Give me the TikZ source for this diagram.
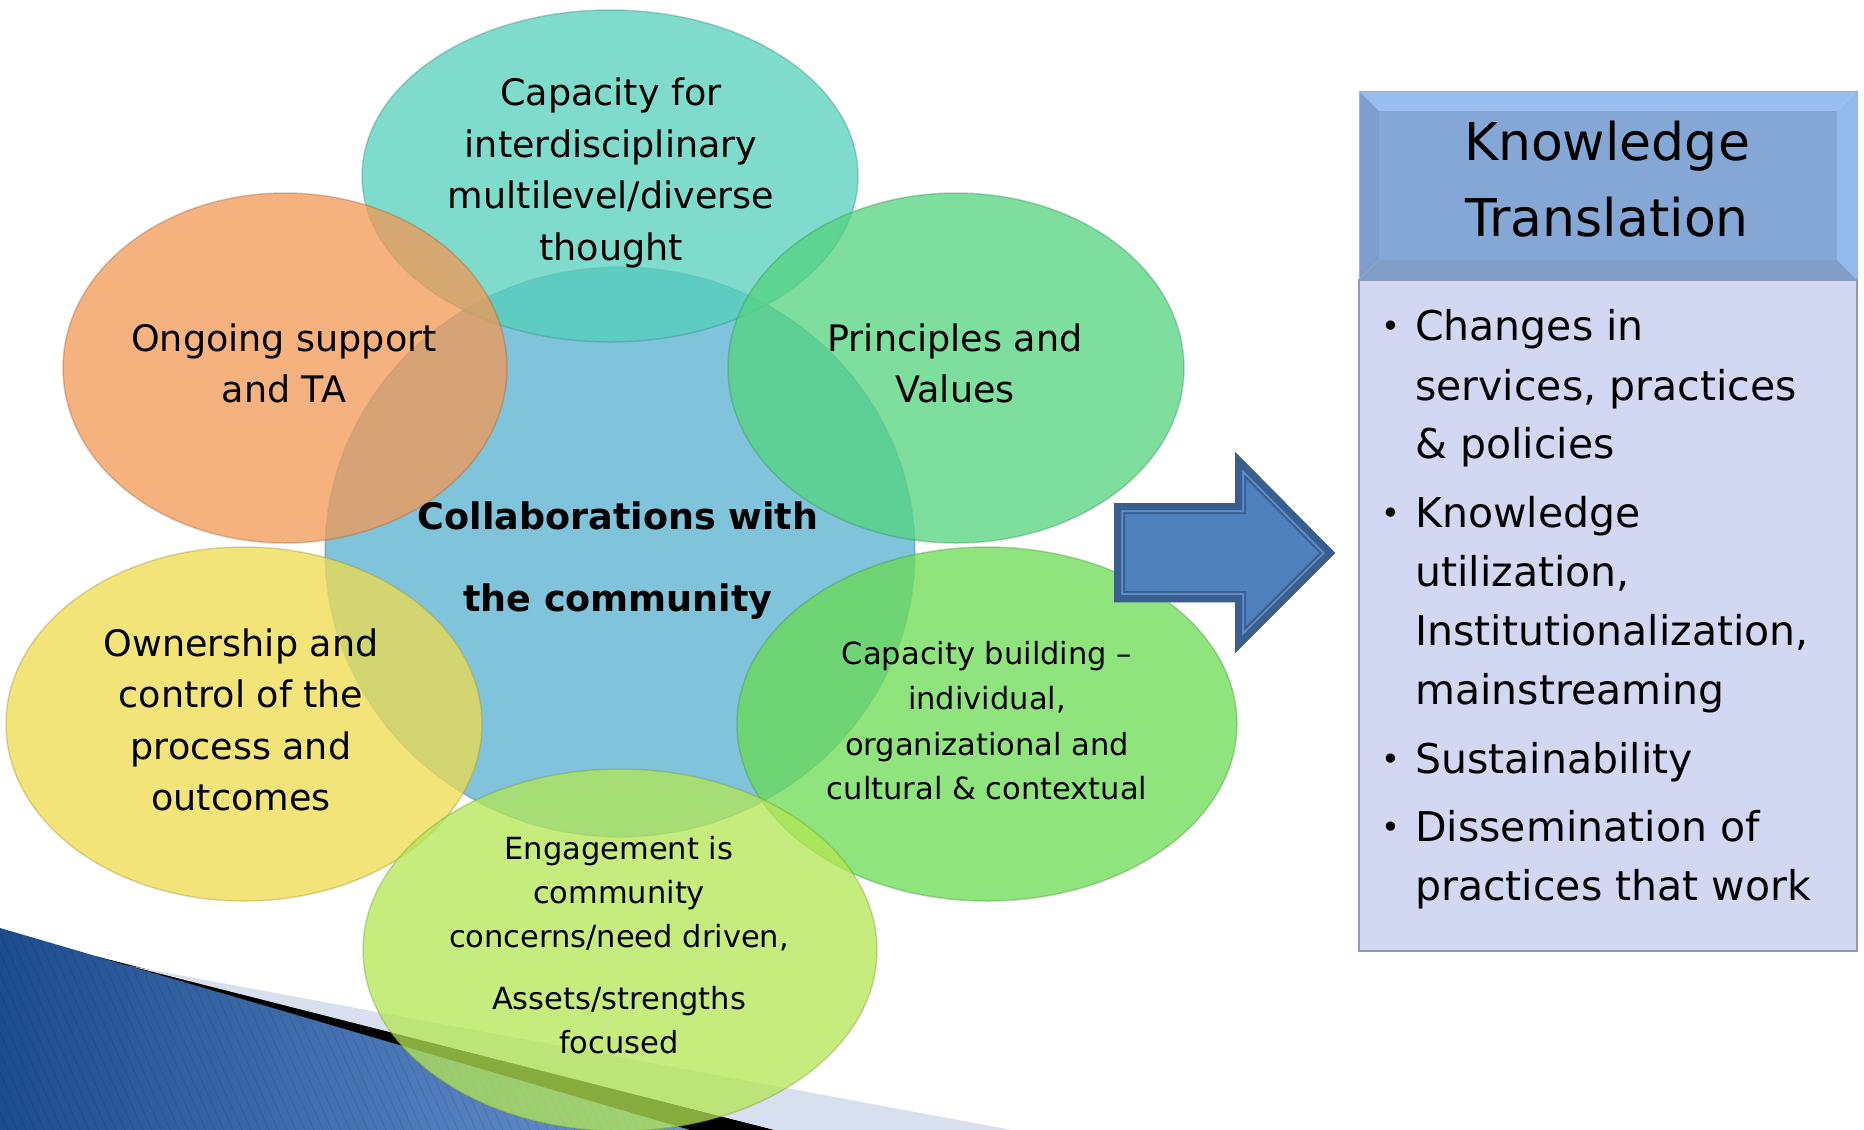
\documentclass[tikz,border=0pt]{standalone}
\usepackage{fontspec}
\setmainfont{DejaVu Sans}
\usetikzlibrary{shapes.geometric}
\definecolor{cCen}{HTML}{80C4DB}
\definecolor{cTeal}{HTML}{55D0BA}
\definecolor{cOrange}{HTML}{F29854}
\definecolor{cPrin}{HTML}{53D47E}
\definecolor{cYellow}{HTML}{EFDB4E}
\definecolor{cCap}{HTML}{6ADC52}
\definecolor{cEng}{HTML}{B3E653}
\definecolor{decoDark}{HTML}{1D4C8C}
\definecolor{decoLight}{HTML}{6D98D6}
\definecolor{decoGray}{HTML}{D8DFEE}
\definecolor{arFill}{HTML}{4F81BD}
\definecolor{arDark}{HTML}{3A5E8E}
\definecolor{arLight}{HTML}{5D8DCB}
\definecolor{hdMid}{HTML}{84A7D6}
\definecolor{hdTop}{HTML}{98BFEF}
\definecolor{hdLeft}{HTML}{7D9FD0}
\definecolor{hdRight}{HTML}{93BAEC}
\definecolor{hdBot}{HTML}{809EC8}
\definecolor{bodyFill}{HTML}{D3D8F2}
\definecolor{bodyLine}{HTML}{9099B8}
\newcommand\myfA{\fontsize{36.5}{44}\selectfont}
\newcommand\myfB{\fontsize{30.5}{37}\selectfont}
\newcommand\myfC{\fontsize{36.5}{44}\selectfont\bfseries}
\newcommand\myfH{\fontsize{52}{62}\selectfont}
\newcommand\myfL{\fontsize{41}{50}\selectfont}
\newcommand\myfD{\fontsize{32}{36}\selectfont}
\begin{document}
\begin{tikzpicture}[x=1pt,y=-1pt,
  bub/.style={ellipse, inner sep=0pt, outer sep=0pt, fill=#1, fill opacity=0.75,
              draw=#1!65!black, draw opacity=0.35, line width=1.5pt},
  txA/.style={anchor=base, inner sep=0pt, font=\myfA},
  txB/.style={anchor=base, inner sep=0pt, font=\myfB},
  txC/.style={anchor=base, inner sep=0pt, font=\myfC},
  txH/.style={anchor=base, inner sep=0pt, font=\myfH},
  txL/.style={anchor=base west, inner sep=0pt, font=\myfL},
  bul/.style={anchor=center, inner sep=0pt, font=\myfD}]
\useasboundingbox (0,0) rectangle (1864,1130);
\fill[white] (0,0) rectangle (1864,1130);

% bottom-left decoration
\begin{scope}
  \clip (0,928) -- (690,1130) -- (0,1130) -- cycle;
  \shade[left color=decoDark, right color=decoLight] (0,920) rectangle (700,1130);
  \foreach \i in {-600,-591,...,700}
    \draw[black, opacity=0.10, line width=0.8pt] (\i,920) -- (\i+95,1130);
\end{scope}
\fill[black] (95,956) -- (775,1130) -- (690,1130) -- cycle;
\fill[decoGray] (130,966) -- (1012,1130) -- (775,1130) -- cycle;

% ellipses
\node[bub=cCen, fill opacity=1, minimum width=590pt, minimum height=570pt] (cen) at (620,552) {};
\node[bub=cTeal, minimum width=496pt, minimum height=332pt] (teal) at (610,176) {};
\node[bub=cOrange, minimum width=444pt, minimum height=350pt] (ong) at (285,368) {};
\node[bub=cPrin, minimum width=456pt, minimum height=350pt] (prin) at (956,368) {};
\node[bub=cYellow, minimum width=476pt, minimum height=354pt] (own) at (244,724) {};
\node[bub=cCap, minimum width=500pt, minimum height=354pt] (cap) at (987,724) {};
\node[bub=cEng, minimum width=514pt, minimum height=362pt] (eng) at (620,950) {};

% ellipse texts
\node[txA] (t1) at (611,105) {Capacity for};
\node[txA] (t2) at (611,157) {interdisciplinary};
\node[txA] (t3) at (611,208) {multilevel/diverse};
\node[txA] (t4) at (611,260) {thought};

\node[txA] (o1) at (284,351) {Ongoing support};
\node[txA] (o2) at (284,402) {and TA};

\node[txA] (p1) at (955,351) {Principles and};
\node[txA] (p2) at (955,402) {Values};

\node[txA] (w1) at (241,656) {Ownership and};
\node[txA] (w2) at (241,707) {control of the};
\node[txA] (w3) at (241,759) {process and};
\node[txA] (w4) at (241,810) {outcomes};

\node[txB] (k1) at (987,664) {Capacity building –};
\node[txB] (k2) at (987,709) {individual,};
\node[txB] (k3) at (987,755) {organizational and};
\node[txB] (k4) at (987,799) {cultural \& contextual};

\node[txB] (e1) at (619,859) {Engagement is};
\node[txB] (e2) at (619,903) {community};
\node[txB] (e3) at (619,947) {concerns/need driven,};
\node[txB] (e4) at (619,1009) {Assets/strengths};
\node[txB] (e5) at (619,1053) {focused};

\node[txC] (c1) at (618,529) {Collaborations with};
\node[txC] (c2) at (618,611) {the community};

% arrow
\coordinate (a1) at (1114,503);
\coordinate (a2) at (1235,503);
\coordinate (a3) at (1235,452);
\coordinate (a4) at (1335,553);
\coordinate (a5) at (1235,653);
\coordinate (a6) at (1235,602);
\coordinate (a7) at (1114,602);
\fill[arFill] (a1)--(a2)--(a3)--(a4)--(a5)--(a6)--(a7)--cycle;
\begin{scope}
  \clip (a1)--(a2)--(a3)--(a4)--(a5)--(a6)--(a7)--cycle;
  \draw[arDark, line width=22pt, line join=miter] (a1)--(a2)--(a3)--(a4)--(a5)--(a6)--(a7)--cycle;
  \draw[arLight, line width=18pt, line join=miter] (a1)--(a2)--(a3)--(a4)--(a5)--(a6)--(a7)--cycle;
  \draw[arDark, line width=14pt, line join=miter] (a1)--(a2)--(a3)--(a4)--(a5)--(a6)--(a7)--cycle;
\end{scope}

% header box with bevel
\fill[hdTop] (1359,91) -- (1857,91) -- (1837,111) -- (1379,111) -- cycle;
\fill[hdLeft] (1359,91) -- (1379,111) -- (1379,260) -- (1359,280) -- cycle;
\fill[hdRight] (1857,91) -- (1857,280) -- (1837,260) -- (1837,111) -- cycle;
\fill[hdBot] (1359,280) -- (1379,260) -- (1837,260) -- (1857,280) -- cycle;
\fill[hdMid] (1379,111) rectangle (1837,260);
\draw[bodyLine!80!white, line width=1pt] (1359,91) rectangle (1857,280);
\node[txH] (h1) at (1607,160) {Knowledge};
\node[txH] (h2) at (1607,236) {Translation};

% body box
\filldraw[fill=bodyFill, draw=bodyLine, line width=2pt] (1359,280) rectangle (1857,951);
\node[bul] (b1) at (1391,329) {•};
\node[bul] (b2) at (1391,516) {•};
\node[bul] (b3) at (1391,762) {•};
\node[bul] (b4) at (1391,830) {•};
\node[txL] (l1) at (1415,340) {Changes in};
\node[txL] (l2) at (1415,400) {services, practices};
\node[txL] (l3) at (1415,458) {\& policies};
\node[txL] (l4) at (1415,527) {Knowledge};
\node[txL] (l5) at (1415,586) {utilization,};
\node[txL] (l6) at (1415,645) {Institutionalization,};
\node[txL] (l7) at (1415,704) {mainstreaming};
\node[txL] (l8) at (1415,773) {Sustainability};
\node[txL] (l9) at (1415,841) {Dissemination of};
\node[txL] (l10) at (1415,900) {practices that work};
\end{tikzpicture}
\end{document}
